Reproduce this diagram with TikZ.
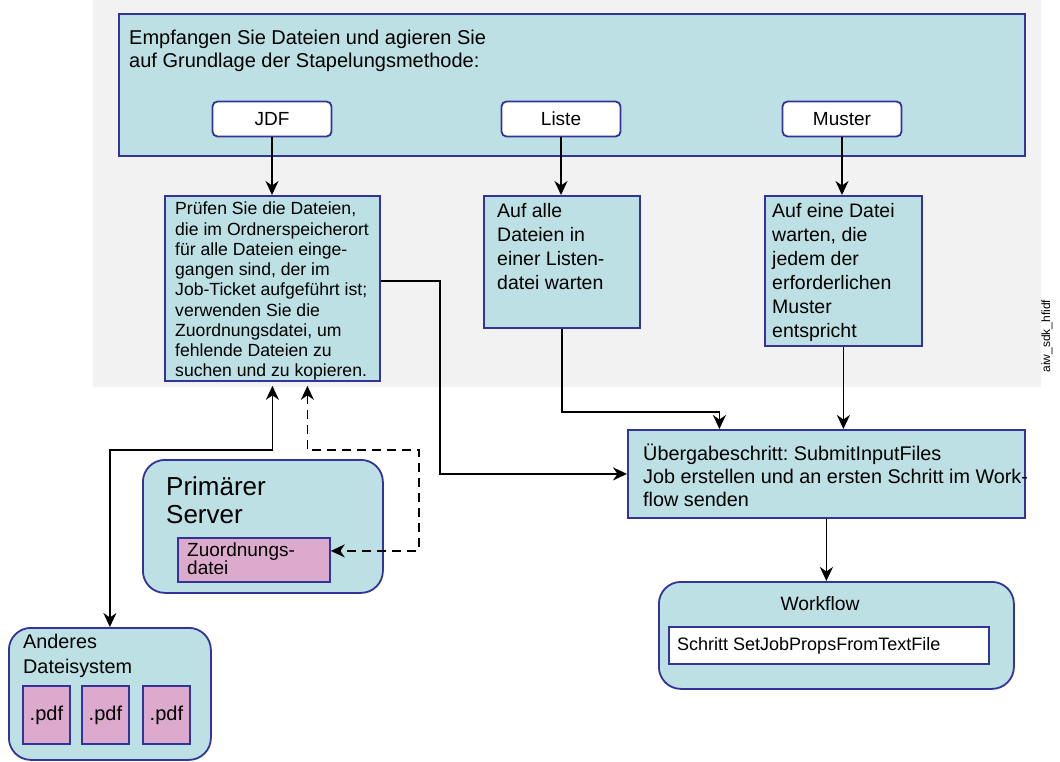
\documentclass[tikz,border=0pt]{standalone}
\usepackage{fontspec}
\setmainfont{Liberation Sans}
\usetikzlibrary{arrows.meta}
\frenchspacing

\definecolor{panelfill}{RGB}{188,224,228}
\definecolor{panelline}{RGB}{51,51,153}
\definecolor{filefill}{RGB}{220,170,205}
\definecolor{areagray}{RGB}{242,242,242}

\tikzset{
  >={Stealth[length=14pt,width=13pt,inset=4.5pt]},
  panel/.style={draw=panelline, fill=panelfill, line width=1.8pt, anchor=north west, inner sep=0pt},
  rpanel/.style={panel, rounded corners=22pt},
  method/.style={draw=panelline, fill=white, line width=1.8pt, rounded corners=5pt,
    minimum width=119pt, minimum height=35pt, font=\fontsize{19}{22}\selectfont},
  filebox/.style={draw=panelline, fill=filefill, line width=1.8pt, anchor=north west, inner sep=0pt},
  txt/.style={anchor=north west, inner sep=0pt, align=left},
  link/.style={line width=1.7pt, ->},
  dlink/.style={link, dash pattern=on 9pt off 6pt},
}

\begin{document}
\begin{tikzpicture}[x=1pt,y=-1pt]
  \useasboundingbox (0,0) rectangle (1060,761);
  \fill[areagray] (93,0) rectangle (1041,387);

  % receive files
  \node[panel, minimum width=906pt, minimum height=142pt] (recv) at (118,13) {};
  \node[txt, font=\fontsize{20}{23}\selectfont] (recvtxt) at (129,30)
    {Empfangen Sie Dateien und agieren Sie\\auf Grundlage der Stapelungsmethode:};
  \node[method] (jdf) at (272,119) {JDF};
  \node[method] (liste) at (561,119) {Liste};
  \node[method] (muster) at (842,119) {Muster};

  % batching methods
  \node[panel, minimum width=215pt, minimum height=185pt] (check) at (164,195) {};
  \node[txt, font=\fontsize{17.6}{20.25}\selectfont] (checktxt) at (175,202)
    {Prüfen Sie die Dateien,\\die im Ordnerspeicherort\\für alle Dateien einge-\\gangen sind, der im\\Job-Ticket aufgeführt ist;\\verwenden Sie die\\Zuordnungsdatei, um\\fehlende Dateien zu\\suchen und zu kopieren.};
  \node[panel, minimum width=156pt, minimum height=132pt] (listbox) at (483,195) {};
  \node[txt, font=\fontsize{19.5}{24}\selectfont] (listtxt) at (497,203)
    {Auf alle\\Dateien in\\einer Listen-\\datei warten};
  \node[panel, minimum width=157pt, minimum height=150pt] (musterbox) at (764,195) {};
  \node[txt, font=\fontsize{19.5}{24}\selectfont] (mustertxt) at (772,203)
    {Auf eine Datei\\warten, die\\jedem der\\erforderlichen\\Muster\\entspricht};

  % submit step
  \node[panel, minimum width=397pt, minimum height=88pt] (submit) at (627,429) {};
  \node[txt, font=\fontsize{19.8}{23}\selectfont] (submittxt) at (643,444)
    {Übergabeschritt: SubmitInputFiles\\Job erstellen und an ersten Schritt im Work-\\flow senden};

  % workflow
  \node[rpanel, minimum width=355pt, minimum height=107pt] (workflow) at (658,581) {};
  \node[anchor=base, inner sep=0pt, font=\fontsize{19.3}{22}\selectfont] (wftitle) at (820,610) {Workflow};
  \node[draw=panelline, fill=white, line width=1.8pt, anchor=north west, inner sep=0pt,
    minimum width=320pt, minimum height=37pt] (wfstep) at (668,626) {};
  \node[anchor=base west, inner sep=0pt, font=\fontsize{18}{21}\selectfont] (wfsteptxt) at (677,650)
    {Schritt SetJobPropsFromTextFile};

  % primary server
  \node[rpanel, minimum width=240pt, minimum height=133pt] (server) at (142,459) {};
  \node[txt, font=\fontsize{26}{28}\selectfont] (servertxt) at (166,476) {Primärer\\Server};
  \node[filebox, minimum width=152pt, minimum height=44pt] (map) at (177,537) {};
  \node[txt, font=\fontsize{19}{18}\selectfont] (maptxt) at (187,543) {Zuordnungs-\\datei};

  % other file system
  \node[rpanel, minimum width=202pt, minimum height=132pt] (other) at (8,627) {};
  \node[txt, font=\fontsize{19.8}{25}\selectfont] (othertxt) at (23,634) {Anderes\\Dateisystem};
  \foreach \i/\x in {1/22, 2/81, 3/142}
    \node[filebox, minimum width=47pt, minimum height=58pt, font=\fontsize{20}{22}\selectfont]
      (pdf\i) at (\x,685) {.pdf};

  \node[rotate=90, inner sep=0pt, font=\fontsize{12}{13}\selectfont] (tag) at (1047,336) {aiw\_sdk\_hfidf};

  % connectors
  \draw[link] (jdf.south) -- (jdf.south |- check.north);
  \draw[link] (liste.south) -- (liste.south |- listbox.north);
  \draw[link] (muster.south) -- (muster.south |- musterbox.north);
  \draw[link] (listbox.south) -- ++(0,83) -| ([xshift=-107pt]submit.north);
  \draw[link] (musterbox.south) -- (musterbox.south |- submit.north);
  \draw[link] (check.4.5) -- ++(59,0) |- (submit.west);
  \draw[link] (submit.south) -- (submit.south |- workflow.north);
  \draw[link, <->] (other.north) -- ++(0,-177) -| ([yshift=-4pt]check.south);
  \draw[dlink, <->] ([xshift=35pt,yshift=-4pt]check.south) -- ++(0,64)
    -| ([xshift=88pt,yshift=9pt]map.east) -- ([yshift=9pt]map.east);
\end{tikzpicture}
\end{document}
